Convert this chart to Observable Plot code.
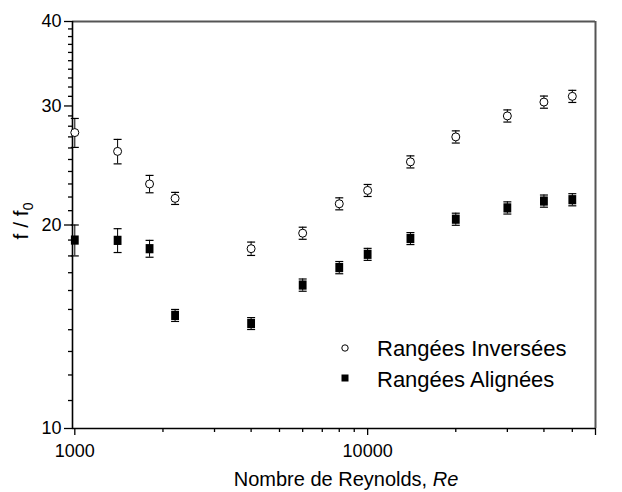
<!DOCTYPE html>
<html>
<head>
<meta charset="utf-8">
<script src="https://cdn.jsdelivr.net/npm/d3@7"></script>
<script src="https://cdn.jsdelivr.net/npm/@observablehq/plot@0.6"></script>
<style>
  html, body { margin: 0; padding: 0; background: #fff; }
  #chart svg { display: block; }
</style>
</head>
<body>
<div id="chart"></div>
<script>
// ---- data ----
const reynolds = [1000, 1400, 1800, 2200, 4000, 6000, 8000, 10000, 14000, 20000, 30000, 40000, 50000];
const inversees = [27.4, 25.7, 23.0, 21.9, 18.45, 19.45, 21.5, 22.5, 24.8, 27.0, 29.0, 30.4, 31.0];
const errInversees = [1.35, 1.07, 0.68, 0.45, 0.42, 0.40, 0.44, 0.46, 0.51, 0.56, 0.60, 0.63, 0.64];
const alignees = [19.0, 18.98, 18.45, 14.7, 14.3, 16.3, 17.3, 18.1, 19.1, 20.4, 21.2, 21.7, 21.8];
const errAlignees = [1.0, 0.77, 0.53, 0.30, 0.29, 0.34, 0.36, 0.37, 0.39, 0.42, 0.44, 0.45, 0.45];
const seriesNames = ["Rangées Inversées", "Rangées Alignées"];

const xDomain = [982, 60000];
const yDomain = [10, 40];
const xTicks = [1000, 10000, 60000];
const xMinorTicks = [2000, 3000, 4000, 5000, 6000, 7000, 8000, 9000, 20000, 30000, 40000, 50000];
const yTicks = [10, 20, 30, 40];
const yMinorTicks = [11, 12, 13, 14, 15, 16, 17, 18, 19, 21, 22, 23, 24, 25, 26, 27, 28, 29, 31, 32, 33, 34, 35, 36, 37, 38, 39];
const xTitle = "Nombre de Reynolds, ";
const xTitleItalic = "Re";

// ---- tables ----
const inv = reynolds.map((re, i) => ({re, f: inversees[i], lo: inversees[i] - errInversees[i], hi: inversees[i] + errInversees[i]}));
const ali = reynolds.map((re, i) => ({re, f: alignees[i], lo: alignees[i] - errAlignees[i], hi: alignees[i] + errAlignees[i]}));
const both = inv.concat(ali);

// custom symbols
const capSymbol = { draw(ctx, size) { const r = Math.sqrt(size / Math.PI); ctx.moveTo(-r, 0); ctx.lineTo(r, 0); } };
const rectSymbol = { draw(ctx, size) { const r = Math.sqrt(size / Math.PI); ctx.rect(-r * 0.85, -r, r * 1.7, r * 2); } };

const font = "'Liberation Sans', Arial, sans-serif";

const chart = Plot.plot({
  width: 622,
  height: 492,
  marginLeft: 72,
  marginRight: 27,
  marginTop: 21,
  marginBottom: 64,
  style: { fontFamily: font, background: "#fff", color: "#000" },
  x: { type: "log", domain: xDomain, axis: null },
  y: { type: "log", domain: yDomain, axis: null },
  marks: [
    // top & right frame (grey)
    Plot.ruleY([yDomain[1]], { stroke: "#555", strokeWidth: 2 }),
    Plot.ruleX([xDomain[1]], { stroke: "#555", strokeWidth: 2 }),
    // axes
    Plot.axisX(xTicks, { tickSize: 7, tickPadding: 9, tickFormat: d3.format("d"), fontSize: 18, label: null, stroke: "#000", strokeWidth: 1.3 }),
    Plot.axisX(xMinorTicks, { tickSize: 4, tickFormat: () => "", label: null, stroke: "#000", strokeWidth: 1.3 }),
    Plot.axisY(yTicks, { tickSize: 8, tickPadding: 3, tickFormat: d3.format("d"), fontSize: 18, label: null, stroke: "#000", strokeWidth: 1.3 }),
    Plot.axisY(yMinorTicks, { tickSize: 4, tickFormat: () => "", label: null, stroke: "#000", strokeWidth: 1.3 }),
    Plot.ruleX([xDomain[0]], { stroke: "#000", strokeWidth: 1.6 }),
    Plot.ruleY([yDomain[0]], { stroke: "#000", strokeWidth: 1.6 }),
    // error bars
    Plot.ruleX(both, { x: "re", y1: "lo", y2: "hi", stroke: "#000", strokeWidth: 1 }),
    Plot.dot(both, { x: "re", y: "lo", symbol: capSymbol, r: 4, stroke: "#000", strokeWidth: 1.2, fill: "none" }),
    Plot.dot(both, { x: "re", y: "hi", symbol: capSymbol, r: 4, stroke: "#000", strokeWidth: 1.2, fill: "none" }),
    // markers
    Plot.dot(inv, { x: "re", y: "f", r: 4, stroke: "#000", strokeWidth: 1, fill: "#fff" }),
    Plot.dot(ali, { x: "re", y: "f", r: 4.6, symbol: rectSymbol, fill: "#000", stroke: "none" })
  ]
});

document.getElementById("chart").appendChild(chart);

const svg = d3.select(chart);

// y axis title with subscript
const yt = svg.append("text")
  .attr("transform", "translate(28,221) rotate(-90)")
  .attr("text-anchor", "middle")
  .attr("font-family", font)
  .attr("font-size", 21)
  .attr("fill", "#000");
yt.append("tspan").text("f / f");
yt.append("tspan").attr("font-size", 14).attr("dy", 5).text("0");

// x axis title with italic part
const xt = svg.append("text")
  .attr("x", 346)
  .attr("y", 486)
  .attr("text-anchor", "middle")
  .attr("font-family", font)
  .attr("font-size", 20)
  .attr("fill", "#000");
xt.append("tspan").text(xTitle);
xt.append("tspan").attr("font-style", "italic").text(xTitleItalic);

// legend
const lg = svg.append("g").attr("font-family", font).attr("font-size", 22).attr("fill", "#000").attr("text-anchor", "start");
lg.append("circle").attr("cx", 345).attr("cy", 348).attr("r", 3.2).attr("fill", "#fff").attr("stroke", "#000").attr("stroke-width", 1);
lg.append("rect").attr("x", 341.5).attr("y", 374.5).attr("width", 7).attr("height", 7).attr("fill", "#000");
lg.append("text").attr("x", 377).attr("y", 356).attr("text-anchor", "start").text(seriesNames[0]);
lg.append("text").attr("x", 377).attr("y", 387).attr("text-anchor", "start").text(seriesNames[1]);
</script>
</body>
</html>
